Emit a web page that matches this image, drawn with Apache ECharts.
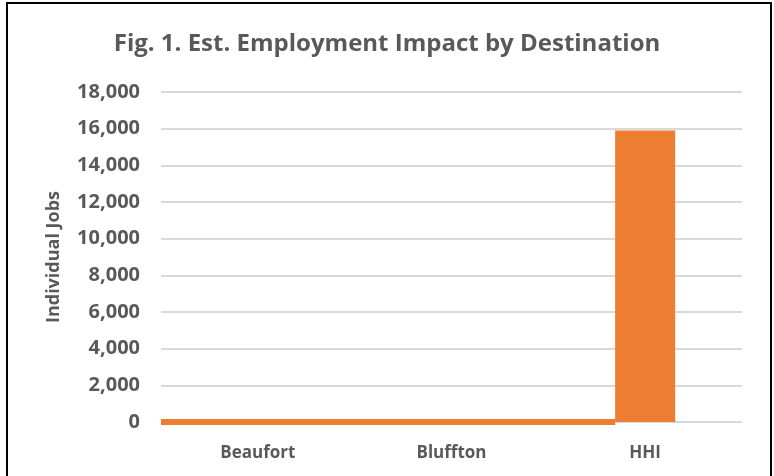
<!DOCTYPE html>
<html>
<head>
<meta charset="utf-8">
<script src="https://cdn.jsdelivr.net/npm/echarts@6/dist/echarts.min.js"></script>
<style>
  html, body { margin: 0; padding: 0; background: #fff; }
  #chart { width: 774px; height: 476px; }
</style>
</head>
<body>
<div id="chart"></div>
<script>
// data
const categories = ['Beaufort', 'Bluffton', 'HHI'];
const jobs = [0, 0, 15900];
const yTicks = [0, 2000, 4000, 6000, 8000, 10000, 12000, 14000, 16000, 18000];

// thin orange strip along the base, running in category units from the
// left edge of the plot to the left edge of the HHI bar
const barFrac = 0.31;
const stripLevel = [0, 0];
const stripSpan = [0, 2 + (1 - barFrac) / 2];

const textColor = '#595959';
const orange = '#ED7D31';
const font = 'Open Sans';

const chart = echarts.init(document.getElementById('chart'));

chart.setOption({
  animation: false,
  graphic: [{
    type: 'rect',
    shape: { x: 7, y: 3, width: 764, height: 490 },
    style: { fill: 'none', stroke: '#000', lineWidth: 2 },
    silent: true
  }],
  title: {
    text: 'Fig. 1. Est. Employment Impact by Destination',
    left: 'center',
    top: 27,
    textStyle: {
      fontFamily: font,
      fontSize: 24,
      fontWeight: 'bold',
      color: textColor
    }
  },
  grid: {
    left: 161,
    right: 32,
    top: 92,
    bottom: 54
  },
  xAxis: [
    {
      type: 'category',
      data: categories,
      axisLine: { show: false },
      axisTick: { show: false },
      axisLabel: {
        fontFamily: font,
        fontSize: 17,
        fontWeight: 'bold',
        color: textColor,
        margin: 23
      }
    },
    {
      type: 'value',
      min: 0,
      max: categories.length,
      show: false
    }
  ],
  yAxis: {
    type: 'value',
    min: yTicks[0],
    max: yTicks[yTicks.length - 1],
    interval: yTicks[1] - yTicks[0],
    name: 'Individual Jobs',
    nameLocation: 'middle',
    nameGap: 98,
    nameTextStyle: {
      fontFamily: font,
      fontSize: 18,
      fontWeight: 'bold',
      color: textColor
    },
    axisLine: { show: false },
    axisTick: { show: false },
    axisLabel: {
      fontFamily: font,
      fontSize: 20,
      fontWeight: 'bold',
      color: textColor,
      margin: 21,
      formatter: function (v) {
        return v.toLocaleString('en-US');
      }
    },
    splitLine: {
      lineStyle: { color: '#D9D9D9', width: 2 }
    }
  },
  series: [
    {
      name: 'Base',
      type: 'line',
      xAxisIndex: 1,
      data: stripSpan.map((x, i) => [x, stripLevel[i]]),
      symbol: 'none',
      lineStyle: { color: orange, width: 6, cap: 'butt' },
      z: 3
    },
    {
      name: 'Jobs',
      type: 'bar',
      data: jobs,
      barWidth: (barFrac * 100) + '%',
      itemStyle: { color: orange },
      z: 2
    }
  ]
});
</script>
</body>
</html>
